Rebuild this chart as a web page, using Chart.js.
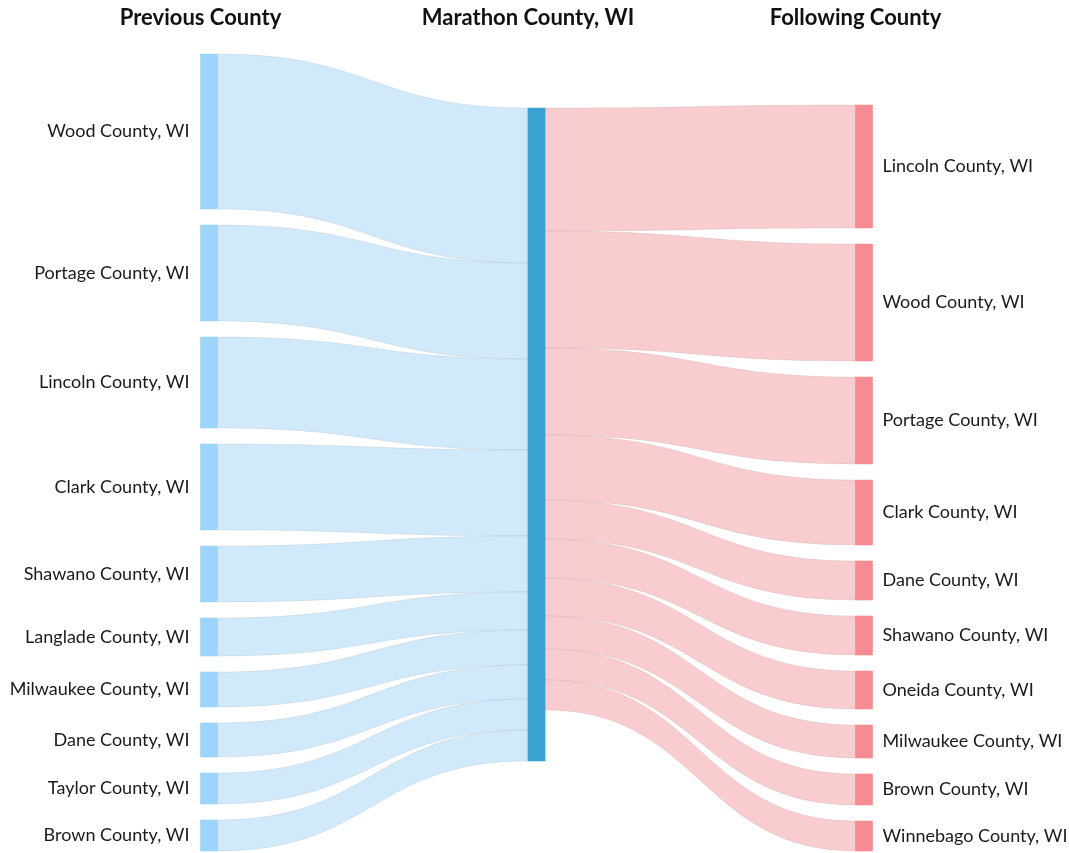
<!DOCTYPE html>
<html>
<head>
<meta charset="utf-8">
<script src="https://cdn.jsdelivr.net/npm/chart.js@4.4.1/dist/chart.umd.min.js"></script>
<style>
    html, body { margin: 0; padding: 0; background: #fff; }
    #wrap { width: 1069px; height: 853px; }
</style>
</head>
<body>
<div id="wrap"><canvas id="sankey"></canvas></div>
<script>
// Sankey: where people came from / went to, around Marathon County, WI

const columnTitles = ['Previous County', 'Marathon County, WI', 'Following County'];
const centerCounty = 'Marathon County, WI';

const previousCounties = [
    'Wood County, WI', 'Portage County, WI', 'Lincoln County, WI', 'Clark County, WI',
    'Shawano County, WI', 'Langlade County, WI', 'Milwaukee County, WI', 'Dane County, WI',
    'Taylor County, WI', 'Brown County, WI'
];
const previousValues = [155, 96, 91, 86, 56, 38, 35, 34, 31, 31];

const followingCounties = [
    'Lincoln County, WI', 'Wood County, WI', 'Portage County, WI', 'Clark County, WI',
    'Dane County, WI', 'Shawano County, WI', 'Oneida County, WI', 'Milwaukee County, WI',
    'Brown County, WI', 'Winnebago County, WI'
];
const followingValues = [123, 117, 87, 65, 39, 39, 38, 33, 31, 30];

// layout settings (value units on the y scale)
const NODE_GAP = 16;
const CENTER_TOP = 54;
const NODE_WIDTH = 17;

const colors = {
    leftNode: '#9dd4fb',
    centerNode: '#38a2d3',
    rightNode: '#f68b91',
    leftLink: 'rgba(208, 234, 252, 1)',
    rightLink: 'rgba(249, 205, 208, 1)',
    linkEdge: 'rgba(0, 0, 0, 0.07)',
    label: '#1a1a1a',
    title: '#111'
};

function sum(arr) {
    return arr.reduce((a, b) => a + b, 0);
}

// stack a column of nodes top to bottom with gaps
function stackColumn(labels, values, col, start) {
    let y = start;
    return labels.map((label, i) => {
        const node = { label, col, value: values[i], y0: y, y1: y + values[i] };
        y += values[i] + NODE_GAP;
        return node;
    });
}

const leftTotal = sum(previousValues) + NODE_GAP * (previousValues.length - 1);
const rightTotal = sum(followingValues) + NODE_GAP * (followingValues.length - 1);
const yMax = Math.max(leftTotal, rightTotal);

const leftNodes = stackColumn(previousCounties, previousValues, 0, 0);
const rightNodes = stackColumn(followingCounties, followingValues, 2, yMax - rightTotal);
const centerValue = Math.max(sum(previousValues), sum(followingValues));
const centerNode = { label: centerCounty, col: 1, value: centerValue, y0: CENTER_TOP, y1: CENTER_TOP + centerValue };

// links: left -> center, center -> right
const links = [];
let cy = centerNode.y0;
leftNodes.forEach(n => {
    links.push({ fromCol: 0, toCol: 1, a0: n.y0, a1: n.y1, b0: cy, b1: cy + n.value, color: colors.leftLink });
    cy += n.value;
});
cy = centerNode.y0;
rightNodes.forEach(n => {
    links.push({ fromCol: 1, toCol: 2, a0: cy, a1: cy + n.value, b0: n.y0, b1: n.y1, color: colors.rightLink });
    cy += n.value;
});

const allNodes = [...leftNodes, centerNode, ...rightNodes];
const nodeColors = allNodes.map(n => n.col === 0 ? colors.leftNode : (n.col === 1 ? colors.centerNode : colors.rightNode));

const sankeyLinks = {
    id: 'sankeyLinks',
    beforeDatasetsDraw(chart) {
        const { ctx, scales: { x, y } } = chart;
        const half = NODE_WIDTH / 2;
        ctx.save();
        links.forEach(l => {
            const x0 = x.getPixelForValue(l.fromCol) + half;
            const x1 = x.getPixelForValue(l.toCol) - half;
            const xm = (x0 + x1) / 2;
            const a0 = y.getPixelForValue(l.a0), a1 = y.getPixelForValue(l.a1);
            const b0 = y.getPixelForValue(l.b0), b1 = y.getPixelForValue(l.b1);
            ctx.beginPath();
            ctx.moveTo(x0, a0);
            ctx.bezierCurveTo(xm, a0, xm, b0, x1, b0);
            ctx.lineTo(x1, b1);
            ctx.bezierCurveTo(xm, b1, xm, a1, x0, a1);
            ctx.closePath();
            ctx.fillStyle = l.color;
            ctx.fill();
            ctx.strokeStyle = colors.linkEdge;
            ctx.lineWidth = 1;
            ctx.stroke();
        });
        ctx.restore();
    },
    afterDatasetsDraw(chart) {
        const { ctx, scales: { x, y } } = chart;
        ctx.save();
        // node labels
        ctx.font = "18px Lato, 'Noto Sans', sans-serif";
        ctx.fillStyle = colors.label;
        ctx.textBaseline = 'middle';
        leftNodes.forEach(n => {
            ctx.textAlign = 'right';
            ctx.fillText(n.label, x.getPixelForValue(0) - NODE_WIDTH / 2 - 11, y.getPixelForValue((n.y0 + n.y1) / 2));
        });
        rightNodes.forEach(n => {
            ctx.textAlign = 'left';
            ctx.fillText(n.label, x.getPixelForValue(2) + NODE_WIDTH / 2 + 10, y.getPixelForValue((n.y0 + n.y1) / 2));
        });
        // column titles
        ctx.font = "bold 22px Lato, 'Noto Sans', sans-serif";
        ctx.fillStyle = colors.title;
        ctx.textAlign = 'center';
        columnTitles.forEach((t, i) => {
            ctx.fillText(t, x.getPixelForValue(i) - NODE_WIDTH / 2, 18);
        });
        ctx.restore();
    }
};

new Chart(document.getElementById('sankey'), {
    type: 'bar',
    data: {
        datasets: [{
            label: 'Nodes',
            data: allNodes.map(n => ({ x: n.col, y: [n.y0, n.y1] })),
            backgroundColor: nodeColors,
            borderWidth: 0,
            barThickness: NODE_WIDTH,
            clip: false
        }]
    },
    options: {
        responsive: true,
        maintainAspectRatio: false,
        animation: false,
        layout: {
            padding: { left: 209, right: 205, top: 54, bottom: 2 }
        },
        plugins: {
            legend: { display: false },
            tooltip: { enabled: false },
            title: { display: false }
        },
        scales: {
            x: {
                type: 'linear',
                min: 0,
                max: 2,
                offset: false,
                display: false
            },
            y: {
                type: 'linear',
                reverse: true,
                min: 0,
                max: yMax,
                display: false
            }
        }
    },
    plugins: [sankeyLinks]
});
</script>
</body>
</html>
